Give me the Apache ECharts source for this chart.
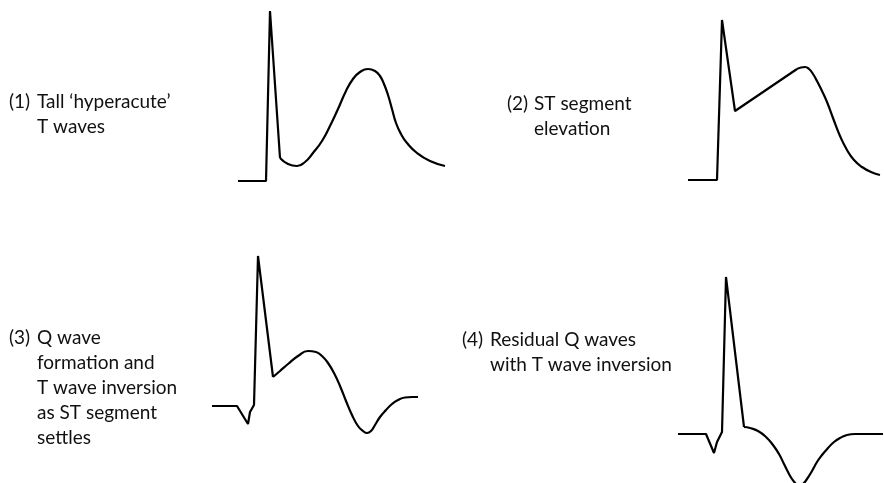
<!DOCTYPE html>
<html>
<head>
<meta charset="utf-8">
<title>ECG evolution of myocardial infarction</title>
<script src="https://cdn.jsdelivr.net/npm/echarts@6.0.0/dist/echarts.min.js"></script>
<style>
  html, body { margin: 0; padding: 0; background: #ffffff; }
  #main { width: 884px; height: 483px; }
</style>
</head>
<body>
<div id="main"></div>
<script>
// each trace: [time, amplitude], baseline = 0
// straight part = PQRS complex, curve part = ST / T wave (drawn smooth)
var wave1Qrs = [[0, 0], [28, 0], [32, 170], [42, 23]];
var wave1T = [[42, 23], [50, 17], [59, 15], [67, 19], [75, 28], [84, 40], [92, 55], [100, 72],
  [108, 90], [115, 102], [122, 109], [130, 112], [137, 110], [142, 105], [146, 97], [150, 86],
  [154, 72], [158, 58], [163, 47], [169, 38], [179, 28], [192, 20], [207, 15]];

var wave2Qrs = [[0, 0], [29, 0], [34, 160], [47, 69], [109, 111]];
var wave2T = [[109, 111], [113, 112.5], [117, 113], [121, 111], [125, 106], [129, 99], [134, 89],
  [139, 78], [145, 62], [152, 44], [159, 30], [166, 20], [174, 13], [183, 8], [192, 5]];

var wave3Qrs = [[0, 0], [25, 0], [36, -18], [38, -6], [42, 1], [46, 150], [61, 29]];
var wave3T = [[61, 29], [68, 35], [76, 42], [86, 50], [96, 55], [104, 54], [110, 50], [116, 43],
  [122, 33], [128, 20], [134, 5], [140, -9], [146, -20], [151, -25], [155, -27], [159, -25],
  [163, -19], [168, -11], [174, -4], [180, 2], [186, 6], [193, 8.5], [200, 9], [206, 9]];

var wave4Qrs = [[0, 0], [28, 0], [36, -19], [39, -8], [44, 2], [48, 157], [66, 7]];
var wave4T = [[66, 7], [72, 6], [80, 3], [88, -3], [95, -11], [101, -20], [106, -30], [110, -38],
  [114, -45], [118, -50], [121, -52], [125, -50], [129, -45], [134, -37], [139, -28], [144, -21],
  [150, -14], [156, -8], [162, -4], [169, -1], [177, 0], [190, 0], [205, 0]];

var captions = [
  { num: "(1)", lines: ["Tall \u2018hyperacute\u2019", "T waves"] },
  { num: "(2)", lines: ["ST segment", "elevation"] },
  { num: "(3)", lines: ["Q wave", "formation and", "T wave inversion", "as ST segment", "settles"] },
  { num: "(4)", lines: ["Residual Q waves", "with T wave inversion"] }
];

// panel layout: left/baseline in px, 1 data unit = 1 px
// grids kept inside the canvas, the last dip runs past its grid (clip off)
var panels = [
  { left: 238, base: 181, w: 207, ymin: 0, ymax: 170, qrs: wave1Qrs, t: wave1T, tx: 9, bx: 37, ty: 102 },
  { left: 688, base: 180, w: 192, ymin: 0, ymax: 160, qrs: wave2Qrs, t: wave2T, tx: 507, bx: 534, ty: 104 },
  { left: 212, base: 406, w: 206, ymin: -30, ymax: 150, qrs: wave3Qrs, t: wave3T, tx: 9, bx: 37, ty: 338 },
  { left: 678, base: 434, w: 205, ymin: -40, ymax: 160, qrs: wave4Qrs, t: wave4T, tx: 462, bx: 490, ty: 340 }
];

var myChart = echarts.init(document.getElementById("main"));
var grids = [], xAxes = [], yAxes = [], series = [], texts = [];
var lineStyle = { color: "#000000", width: 2.2 };
var textFont = { fontFamily: "Lato", fontSize: 19, fill: "#111111" };

panels.forEach(function (p, i) {
  grids.push({ left: p.left, top: p.base - p.ymax, width: p.w, height: p.ymax - p.ymin });
  xAxes.push({ gridIndex: i, type: "value", min: 0, max: p.w, show: false });
  yAxes.push({ gridIndex: i, type: "value", min: p.ymin, max: p.ymax, show: false });
  series.push({
    type: "line", xAxisIndex: i, yAxisIndex: i, data: p.qrs,
    showSymbol: false, symbol: "none", lineStyle: lineStyle, clip: false
  });
  series.push({
    type: "line", xAxisIndex: i, yAxisIndex: i, data: p.t,
    smooth: 0.5, showSymbol: false, symbol: "none", lineStyle: lineStyle, clip: false
  });

  // caption: number then indented lines
  var c = captions[i];
  texts.push({
    type: "text", left: p.tx, top: p.ty - 10,
    style: Object.assign({ text: c.num }, textFont)
  });
  c.lines.forEach(function (ln, k) {
    texts.push({
      type: "text", left: p.bx, top: p.ty - 10 + k * 25,
      style: Object.assign({ text: ln }, textFont)
    });
  });
});

myChart.setOption({
  animation: false,
  grid: grids,
  xAxis: xAxes,
  yAxis: yAxes,
  series: series,
  graphic: texts
});
</script>
</body>
</html>
